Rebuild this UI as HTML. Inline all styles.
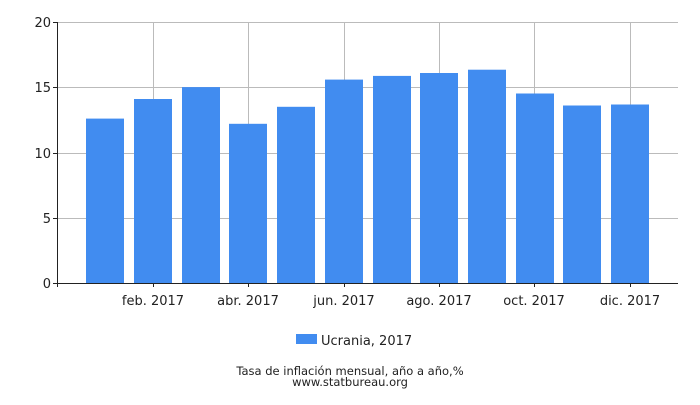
<!DOCTYPE html>
<html><head><style>body{margin:0;background:#fff}svg text{font-family:"DejaVu Sans","Liberation Sans",sans-serif;font-size:13px;fill:#222}</style></head><body>
<svg width="700" height="400" xmlns="http://www.w3.org/2000/svg">
<g stroke="#bbb" stroke-width="1">
<line x1="57" y1="22.5" x2="678" y2="22.5"/><line x1="57" y1="87.5" x2="678" y2="87.5"/><line x1="57" y1="153.5" x2="678" y2="153.5"/><line x1="57" y1="218.5" x2="678" y2="218.5"/>
<line x1="153.5" y1="22" x2="153.5" y2="283"/><line x1="248.5" y1="22" x2="248.5" y2="283"/><line x1="344.5" y1="22" x2="344.5" y2="283"/><line x1="439.5" y1="22" x2="439.5" y2="283"/><line x1="534.5" y1="22" x2="534.5" y2="283"/><line x1="630.5" y1="22" x2="630.5" y2="283"/>
</g>
<g fill="#418cf0">
<rect x="86" y="118.6" width="38" height="164.4"/>
<rect x="134" y="99" width="38" height="184"/>
<rect x="182" y="87.1" width="38" height="195.9"/>
<rect x="229" y="123.8" width="38" height="159.2"/>
<rect x="277" y="106.8" width="38" height="176.2"/>
<rect x="325" y="79.6" width="38" height="203.4"/>
<rect x="373" y="75.9" width="38" height="207.1"/>
<rect x="420" y="73" width="38" height="210"/>
<rect x="468" y="69.7" width="38" height="213.3"/>
<rect x="516" y="93.5" width="38" height="189.5"/>
<rect x="563" y="105.5" width="38" height="177.5"/>
<rect x="611" y="104.5" width="38" height="178.5"/>
</g>
<g stroke="#222" stroke-width="1">
<line x1="57.5" y1="22" x2="57.5" y2="287"/><line x1="57" y1="283.5" x2="678" y2="283.5"/>
<line x1="53" y1="22.5" x2="57" y2="22.5"/><line x1="53" y1="87.5" x2="57" y2="87.5"/><line x1="53" y1="153.5" x2="57" y2="153.5"/><line x1="53" y1="218.5" x2="57" y2="218.5"/><line x1="53" y1="283.5" x2="57" y2="283.5"/>
<line x1="153.5" y1="283" x2="153.5" y2="287"/><line x1="248.5" y1="283" x2="248.5" y2="287"/><line x1="344.5" y1="283" x2="344.5" y2="287"/><line x1="439.5" y1="283" x2="439.5" y2="287"/><line x1="534.5" y1="283" x2="534.5" y2="287"/><line x1="630.5" y1="283" x2="630.5" y2="287"/>
</g>
<g text-anchor="end"><text x="51" y="27">20</text><text x="51" y="92">15</text><text x="51" y="158">10</text><text x="51" y="223">5</text><text x="51" y="288">0</text></g>
<g text-anchor="middle"><text x="153" y="305">feb. 2017</text><text x="248" y="305">abr. 2017</text><text x="344" y="305">jun. 2017</text><text x="439" y="305">ago. 2017</text><text x="534" y="305">oct. 2017</text><text x="630" y="305">dic. 2017</text></g>
<rect x="296" y="334" width="21" height="10" fill="#418cf0"/>
<text x="321" y="345">Ucrania, 2017</text>
<g text-anchor="middle"><text x="350" y="375" style="font-size:11.5px">Tasa de inflación mensual, año a año,%</text><text x="350" y="386" style="font-size:11.5px">www.statbureau.org</text></g>
</svg>
</body></html>
